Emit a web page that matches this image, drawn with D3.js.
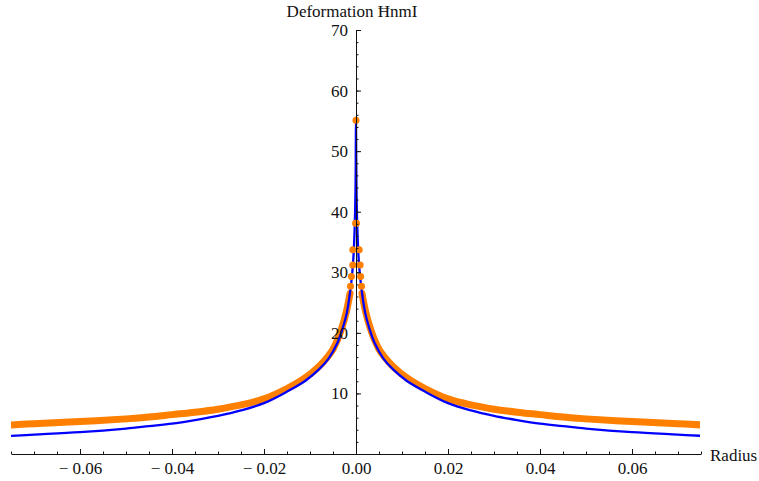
<!DOCTYPE html>
<meta charset="utf-8">
<html>
<head>
<script type="text/javascript" src="https://d3js.org/d3.v7.js"></script>
</head>
<body style="margin:0;background:white">
<div id="plotArea"></div>
<style>
  svg text { font-family: "Liberation Serif", "DejaVu Serif", serif !important; fill: #111; }
</style>
<script>
  // blue theory curve (radius, deformation)
  const blueR = [-0.075,-0.07,-0.06,-0.05,-0.045,-0.04,-0.035,-0.03,-0.025,-0.02,-0.015,-0.011,-0.008,-0.006,-0.004,-0.003,-0.002,-0.001,-0.0006,-0.0003,-0.0001,0,
                 0.0001,0.0003,0.0006,0.001,0.002,0.003,0.004,0.006,0.008,0.011,0.015,0.02,0.025,0.03,0.035,0.04,0.045,0.05,0.06,0.07,0.075];
  const blueV = [3.0,3.2,3.6,4.2,4.6,5.0,5.6,6.3,7.2,8.4,10.3,12.1,14.0,15.7,18.4,20.5,23.3,28.5,32,37,44,54.8,
                 44,37,32,28.5,23.3,20.5,18.4,15.7,14.0,12.1,10.3,8.4,7.2,6.3,5.6,5.0,4.6,4.2,3.6,3.2,3.0];

  // orange measured points, dense band on each side
  const leftR  = [-0.075,-0.07,-0.06,-0.05,-0.045,-0.04,-0.035,-0.03,-0.025,-0.02,-0.015,-0.011,-0.008,-0.006,-0.005,-0.004,-0.003,-0.002,-0.0013];
  const leftV  = [4.8,5.0,5.35,5.8,6.1,6.5,6.9,7.4,8.1,9.1,10.8,12.6,14.5,16.2,17.3,18.9,21,23.8,26.5];
  const rightR = [0.0013,0.002,0.003,0.004,0.005,0.006,0.008,0.011,0.015,0.02,0.025,0.03,0.035,0.04,0.045,0.05,0.06,0.07,0.075];
  const rightV = [26.5,23.8,21,18.9,17.3,16.2,14.5,12.6,10.8,9.1,8.1,7.4,6.9,6.5,6.1,5.8,5.35,5.0,4.8];

  // separate orange points near the centre
  const dotR = [0,-0.0001,0.0001,-0.0007,0.0007,-0.0007,0.0009,-0.001,0.001,-0.0012,0.0012];
  const dotV = [55.1,38.1,38.1,33.7,33.7,31.2,31.2,29.3,29.3,27.7,27.7];

  const xMajor = [-0.06,-0.04,-0.02,0,0.02,0.04,0.06];
  const yMajor = [10,20,30,40,50,60,70];

  const W = 759, H = 481;
  const svg = d3.select("#plotArea").append("svg").attr("width", W).attr("height", H);

  const x = d3.scaleLinear().domain([-0.075, 0.075]).range([11, 701]);
  const y = d3.scaleLinear().domain([0, 70]).range([454, 30]);

  svg.append("clipPath").attr("id", "clip")
     .append("rect").attr("x", 11).attr("y", 0).attr("width", 689).attr("height", H);

  const plot = svg.append("g").attr("clip-path", "url(#clip)");

  const mk = d3.line().x(d => x(d[0])).y(d => y(d[1])).curve(d3.curveCatmullRom.alpha(0.5));

  // orange band (thick stroke through the points)
  [[leftR, leftV], [rightR, rightV]].forEach(function(s) {
    plot.append("path")
      .attr("d", mk(d3.zip(s[0], s[1])))
      .attr("fill", "none").attr("stroke", "#ff8000")
      .attr("stroke-width", 7).attr("stroke-linejoin", "round").attr("stroke-linecap", "round");
  });

  // blue curve
  plot.append("path")
    .attr("d", mk(d3.zip(blueR, blueV)))
    .attr("fill", "none").attr("stroke", "#0000ff").attr("stroke-width", 2.3);

  // orange dots on top so they cover the blue
  plot.append("g").selectAll("circle").data(d3.zip(dotR, dotV)).enter().append("circle")
    .attr("cx", d => x(d[0])).attr("cy", d => y(d[1])).attr("r", 3.5).attr("fill", "#ff8000");

  // axes
  svg.append("g").attr("transform", "translate(0," + y(0) + ")")
    .call(d3.axisBottom(x).tickValues(xMajor).tickSizeInner(-5).tickSizeOuter(0).tickPadding(8)
      .tickFormat(d => d === 0 ? "0.00" : (d < 0 ? "\u2212 " + d3.format(".2f")(-d) : d3.format(".2f")(d))));
  svg.append("g").attr("transform", "translate(0," + y(0) + ")")
    .call(d3.axisBottom(x).tickValues(d3.range(-15, 16).map(i => i * 0.005)).tickSizeInner(-2.5).tickSizeOuter(0).tickFormat(""))
    .select(".domain").remove();

  svg.append("g").attr("transform", "translate(" + x(0) + ",0)")
    .call(d3.axisLeft(y).tickValues(yMajor).tickSizeInner(-5).tickSizeOuter(0).tickPadding(8));
  svg.append("g").attr("transform", "translate(" + x(0) + ",0)")
    .call(d3.axisLeft(y).tickValues(d3.range(1, 36).map(i => i * 2)).tickSizeInner(-2.5).tickSizeOuter(0).tickFormat(""))
    .select(".domain").remove();

  svg.selectAll("g").attr("font-family", null).attr("font-size", null);
  svg.selectAll(".domain").attr("stroke", "#111");
  svg.selectAll(".tick line").attr("stroke", "#111");
  svg.selectAll(".tick text").style("font-size", "17px").attr("fill", "#111");

  // axis labels
  svg.append("text").attr("x", 352).attr("y", 17).attr("text-anchor", "middle")
    .style("font-size", "17px").text("Deformation \u0126nm\u0399");
  svg.append("text").attr("x", 710).attr("y", 461).attr("text-anchor", "start")
    .style("font-size", "17px").text("Radius");
</script>
</body>
</html>
